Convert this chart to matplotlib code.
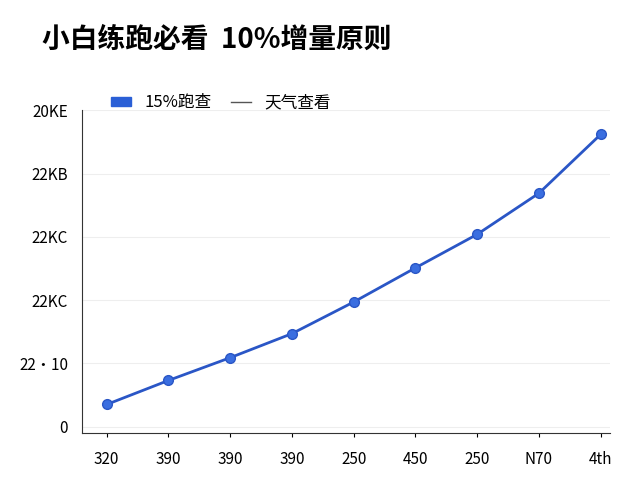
import matplotlib
matplotlib.use("Agg")
import matplotlib.pyplot as plt
from matplotlib.patches import Patch
from matplotlib.lines import Line2D

plt.rcParams['font.family'] = ['Noto Sans CJK SC', 'DejaVu Sans']

x_labels = ["320", "390", "390", "390", "250", "450", "250", "N70", "4th"]
values = [0.35, 0.73, 1.09, 1.47, 1.97, 2.51, 3.04, 3.69, 4.62]
y_ticks = [0, 1, 2, 3, 4, 5]
y_labels = ["0", "22·10", "22KC", "22KC", "22KB", "20KE"]

fig = plt.figure(figsize=(6.4, 4.8), dpi=100)
ax = fig.add_axes([0.128, 0.098, 0.825, 0.672])
xs = list(range(len(values)))
ax.plot(xs, values, color="#2a56c6", lw=2, marker="o", ms=7,
        markerfacecolor="#3a6ee0", markeredgecolor="#2a56c6")
ax.set_xlim(-0.4, 8.15)
ax.set_ylim(-0.1, 5.0)
ax.set_xticks(xs)
ax.set_xticklabels(x_labels, fontsize=11)
ax.set_yticks(y_ticks)
ax.set_yticklabels(y_labels, fontsize=11)
ax.grid(axis="y", color="#eeeeee", lw=0.8)
for s in ["top", "right"]:
    ax.spines[s].set_visible(False)
ax.spines["left"].set_color("#333333")
ax.spines["bottom"].set_color("#333333")
ax.tick_params(axis="y", length=0, pad=10)
ax.tick_params(axis="x", length=3, pad=10)

handles = [Patch(color="#2a5fd6", label="15%跑查"),
           Line2D([0], [0], color="#555555", lw=1, label="天气查看")]
fig.legend(handles=handles, loc="upper left", bbox_to_anchor=(0.15, 0.835),
           ncol=2, frameon=False, fontsize=12, handlelength=1.2,
           handleheight=0.5, columnspacing=1.2)
fig.text(0.065, 0.9, "小白练跑必看  10%增量原则", fontsize=20, fontweight="bold")
fig.savefig("out.png")
